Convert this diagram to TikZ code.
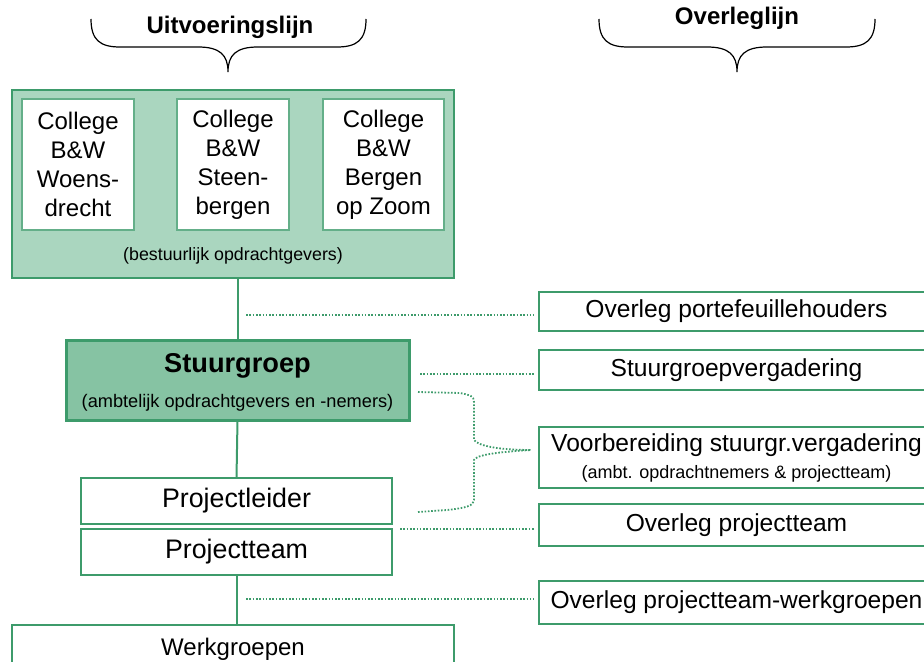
\documentclass[tikz,border=0pt]{standalone}
\usepackage{fontspec}
\setmainfont{Liberation Sans}
\definecolor{rand}{HTML}{3D9B6B}
\definecolor{lichtgroen}{HTML}{AAD6BF}
\definecolor{middengroen}{HTML}{86C3A3}

\begin{document}
\begin{tikzpicture}[x=0.5pt, y=-0.5pt]
    \tikzstyle{every node} = [inner sep=0pt, outer sep=0pt]
    \tikzstyle{groot} = [font=\fontsize{12}{14.5}\selectfont]
    \tikzstyle{middel} = [font=\fontsize{12.3}{14.5}\selectfont]
    \tikzstyle{klein} = [font=\fontsize{9.1}{10.5}\selectfont]
    \tikzstyle{kop} = [font=\fontsize{12}{14}\selectfont\bfseries]
    \tikzstyle{doos} = [draw=rand, line width=1pt, fill=white, groot]
    \tikzstyle{overleg} = [doos, middel, minimum width=197.5pt]
    \tikzstyle{lijn} = [draw=rand, line width=1pt]
    \tikzstyle{stippel} = [draw=rand, line width=0.9pt, dash pattern=on 0.8pt off 0.85pt]

    \clip (0, 0) rectangle (924, 662);

    % accolades
    \draw [line width=0.6pt] (91, 19) .. controls (91, 40) and (100, 47) .. (120, 47) -- (198, 47)
        .. controls (220, 47) and (228, 55) .. (228, 72)
        .. controls (228, 55) and (236, 47) .. (258, 47) -- (337, 47)
        .. controls (357, 47) and (366, 40) .. (366, 19);
    \draw [line width=0.6pt] (599, 19) .. controls (599, 40) and (608, 47) .. (628, 47) -- (707, 47)
        .. controls (729, 47) and (737, 55) .. (737, 72)
        .. controls (737, 55) and (745, 47) .. (767, 47) -- (846, 47)
        .. controls (866, 47) and (875, 40) .. (875, 19);
    \node [kop] (uitvoering) at (230, 27) {Uitvoeringslijn};
    \node [kop] (overlegkop) at (737, 18) {Overleglijn};

    % uitvoeringslijn
    \node [draw=rand, line width=1pt, fill=lichtgroen, minimum width=221pt, minimum height=94pt] (bw) at (233, 184) {};
    \foreach \x/\w/\naam/\tekst in {78/56/woens/{Woens-\\drecht}, 233/56/steen/{Steen-\\bergen}, 383.5/60.5/boz/{Bergen\\op Zoom}}
        \node [draw=rand!80, line width=0.6pt, fill=white, groot, align=center, minimum width=\w pt, minimum height=65.5pt] (\naam) at (\x, 164.5) {College\\B\&W\\\tekst};
    \node [font=\fontsize{8.9}{10}\selectfont] (bestuur) at (233, 256) {(bestuurlijk opdrachtgevers)};

    \node [draw=rand, line width=1.5pt, fill=middengroen, minimum width=171.5pt, minimum height=40pt] (stuur) at (237.5, 380) {};
    \node [font=\fontsize{13.6}{15}\selectfont\bfseries] (stuurtitel) at (237.5, 366) {Stuurgroep};
    \node [klein] (stuursub) at (237.5, 403) {(ambtelijk opdrachtgevers en -nemers)};

    \node [doos, minimum width=155.5pt, minimum height=23pt, font=\fontsize{13.4}{15}\selectfont] (leider) at (236.5, 501) {\raisebox{-1pt}{Projectleider}};
    \node [doos, minimum width=155.5pt, minimum height=23pt, font=\fontsize{13.4}{15}\selectfont] (team) at (236.5, 552) {\raisebox{-1pt}{Projectteam}};
    \node [doos, minimum width=221pt, minimum height=25pt] (werk) at (233, 650) {};
    \node [groot] (werktekst) at (233, 649) {Werkgroepen};

    \draw [lijn] (stuur.north |- bw.south) -- (stuur.north);
    \draw [lijn] (stuur.south) -- (leider.north);
    \draw [lijn] (team.south) -- (team.south |- werk.north);

    % overleglijn
    \node [overleg, minimum height=19.5pt] (porte) at (736.5, 311.5) {Overleg portefeuillehouders};
    \node [overleg, minimum height=20pt] (vergad) at (736.5, 370) {Stuurgroepvergadering};
    \node [overleg, minimum height=30.5pt, align=center] (voorb) at (736.5, 457.5)
        {Voorbereiding stuurgr.vergadering\\[-1pt]{\fontsize{9}{10}\selectfont (ambt. opdrachtnemers \& projectteam)}};
    \node [overleg, minimum height=21pt] (projoverleg) at (736.5, 525) {Overleg projectteam};
    \node [overleg, minimum height=21.5pt] (werkoverleg) at (736.5, 602.5) {Overleg projectteam-werkgroepen};

    \coordinate (s1) at (246, 315);
    \coordinate (s2) at (420, 374);
    \coordinate (b1) at (418, 392);
    \coordinate (b2) at (418, 512);
    \coordinate (v) at (531, 450);
    \coordinate (s3) at (400, 529);
    \coordinate (s4) at (246, 599);

    \draw [stippel, shorten >=2.5pt] (s1) -- (s1 -| porte.west);
    \draw [stippel, shorten >=2.5pt] (s2) -- (s2 -| vergad.west);
    \draw [stippel] (b1) -- (460, 393) .. controls (470, 395) and (474, 396) .. (474, 402) -- (474, 440)
        .. controls (478, 446) and (500, 450) .. (v);
    \draw [stippel] (b2) -- (447, 510) .. controls (465, 508) and (474, 506) .. (474, 500) -- (474, 460)
        .. controls (476, 455) and (497, 452) .. (v);
    \draw [stippel, shorten >=2.5pt] (s3) -- (s3 -| projoverleg.west);
    \draw [stippel, shorten >=2.5pt] (s4) -- (s4 -| werkoverleg.west);
\end{tikzpicture}
\end{document}
